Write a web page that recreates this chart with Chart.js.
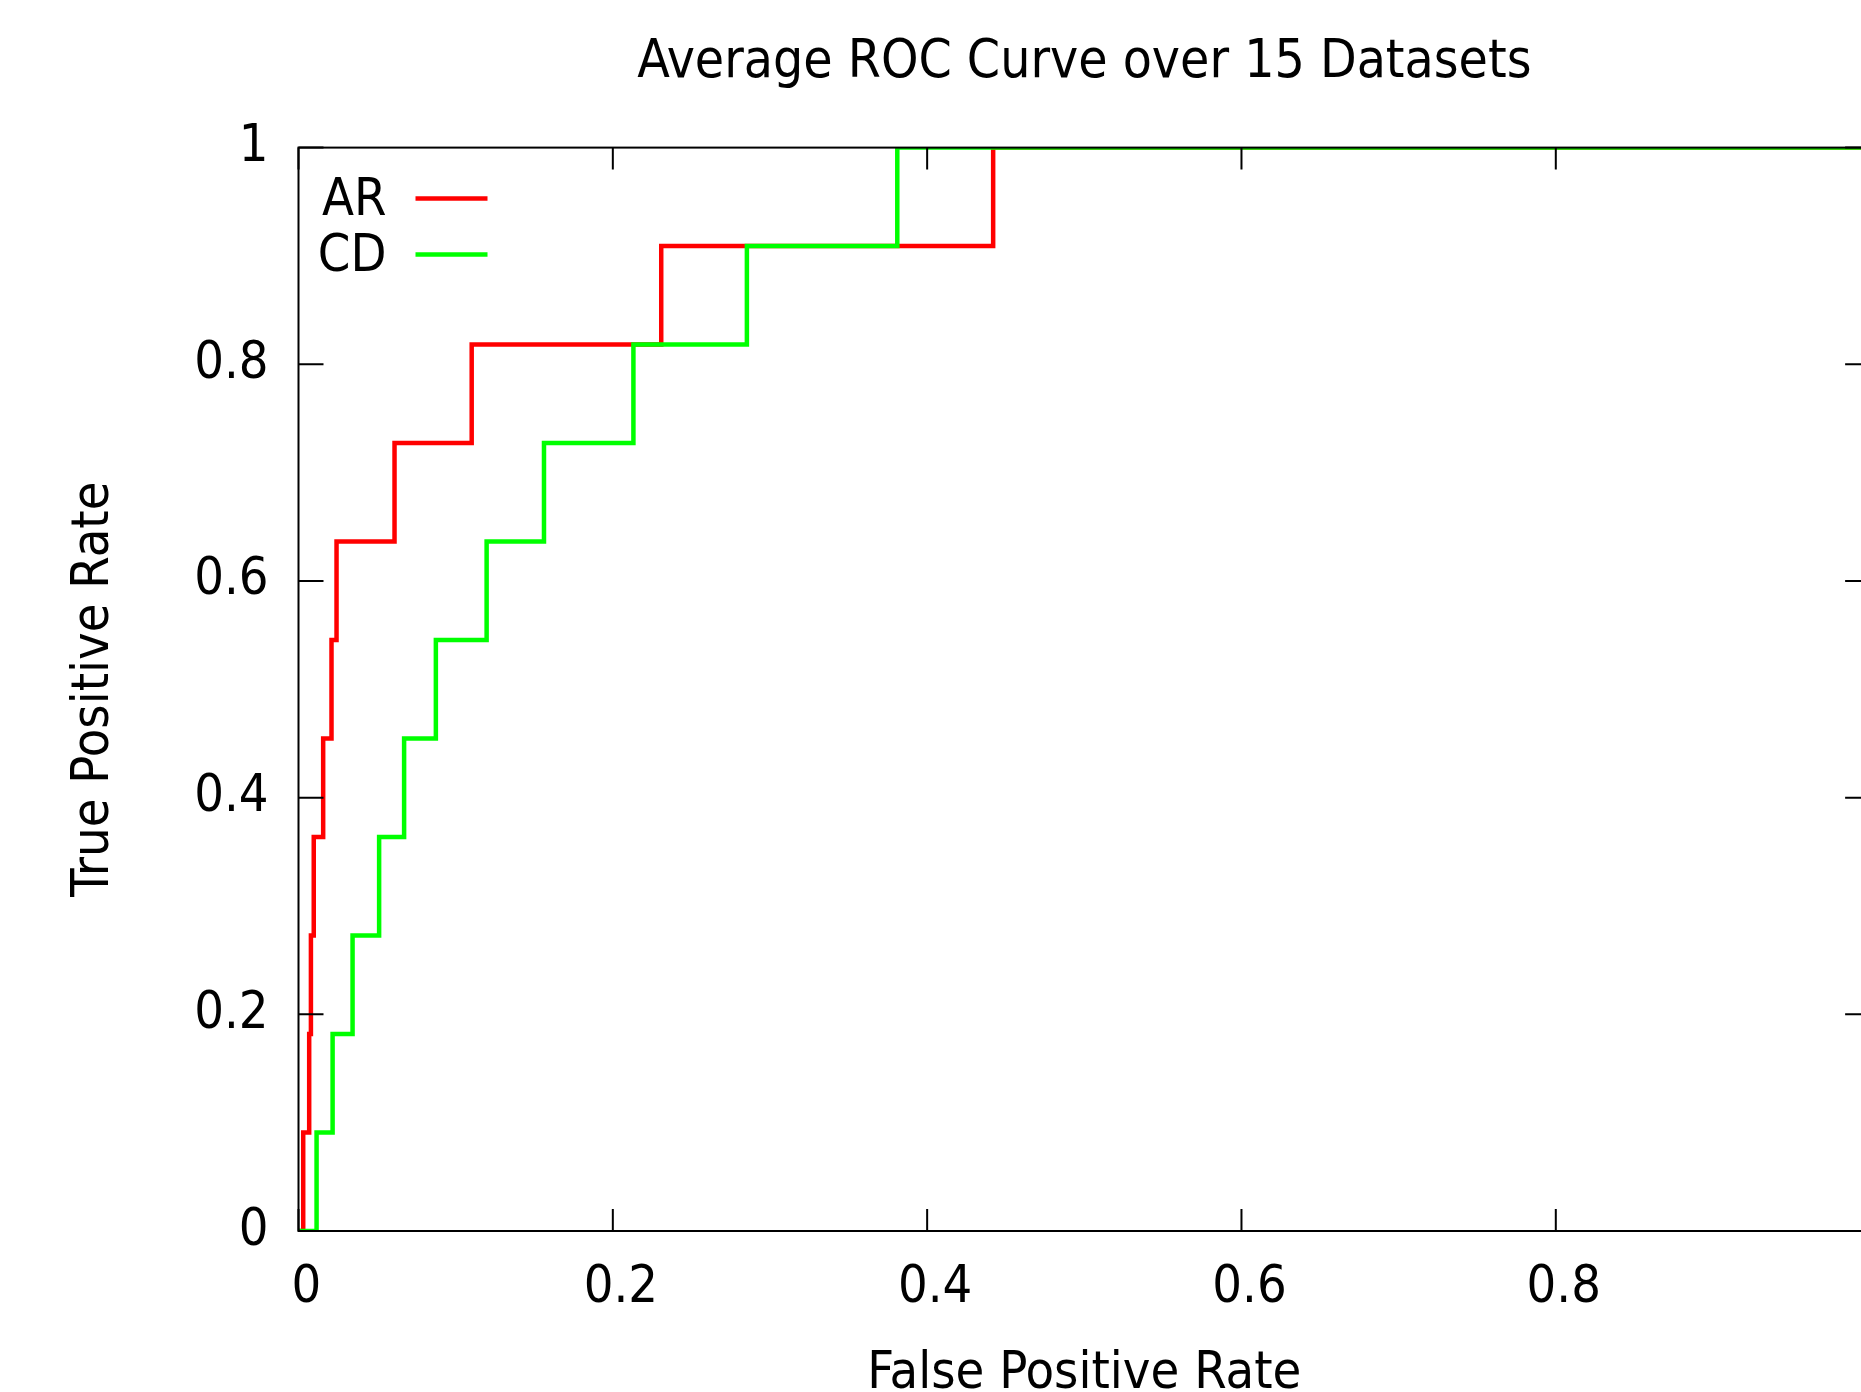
<!DOCTYPE html>
<html>
<head>
<meta charset="utf-8">
<title>Average ROC Curve over 15 Datasets</title>
<script src="https://cdn.jsdelivr.net/npm/chart.js@4.4.1/dist/chart.umd.min.js"></script>
<style>
  html, body { margin: 0; padding: 0; background: #fff; overflow: hidden; }
  #roc { position: absolute; left: 0; top: 0; }
</style>
</head>
<body>
<canvas id="roc" width="1911" height="1420"></canvas>
<script>
// Valores (FPR -> TPR, curva escalonada)
const arFpr = [0, 0.003, 0.0068, 0.0079, 0.0097, 0.0157, 0.021, 0.0242, 0.0611, 0.1102, 0.2308, 0.442, 1];
const arTpr = [0, 0.0909, 0.1818, 0.2727, 0.3636, 0.4545, 0.5455, 0.6364, 0.7273, 0.8182, 0.9091, 1, 1];
const cdFpr = [0, 0.0115, 0.0217, 0.0344, 0.0513, 0.0672, 0.0874, 0.1197, 0.1562, 0.2131, 0.2853, 0.381, 1];
const cdTpr = [0, 0.0909, 0.1818, 0.2727, 0.3636, 0.4545, 0.5455, 0.6364, 0.7273, 0.8182, 0.9091, 1, 1];

const tickValues = [0, 0.2, 0.4, 0.6, 0.8, 1];
const tickLabels = ["0", "0.2", "0.4", "0.6", "0.8", "1"];

const FONT = "'DejaVu Sans Condensed', 'DejaVu Sans', sans-serif";
Chart.defaults.font.family = FONT;
Chart.defaults.font.size = 52;
Chart.defaults.color = "#000";

const toPoints = (xs, ys) => xs.map((v, i) => ({ x: v, y: ys[i] }));

// Marco estilo gnuplot con ticks hacia dentro + leyenda (texto y luego muestra)
const gnuplotFrame = {
  id: "gnuplotFrame",
  afterDatasetsDraw(chart) {
    const { ctx, chartArea: a, scales: { x, y } } = chart;
    ctx.save();
    ctx.strokeStyle = "#000";
    ctx.lineWidth = 2;
    ctx.strokeRect(a.left, a.top, a.right - a.left, a.bottom - a.top);
    ctx.beginPath();
    x.ticks.forEach(t => {
      const px = x.getPixelForValue(t.value);
      ctx.moveTo(px, a.bottom); ctx.lineTo(px, a.bottom - 22);
      ctx.moveTo(px, a.top); ctx.lineTo(px, a.top + 22);
    });
    y.ticks.forEach(t => {
      const py = y.getPixelForValue(t.value);
      ctx.moveTo(a.left, py); ctx.lineTo(a.left + 25, py);
      ctx.moveTo(a.right, py); ctx.lineTo(a.right - 25, py);
    });
    ctx.stroke();

    // Leyenda
    ctx.font = "52px " + FONT;
    ctx.textAlign = "right";
    ctx.textBaseline = "middle";
    chart.data.datasets.slice().sort((p, q) => p.legendRow - q.legendRow).forEach((ds, i) => {
      const ly = a.top + 51 + i * 56;
      ctx.fillStyle = "#000";
      ctx.fillText(ds.label, a.left + 88, ly + 3);
      ctx.strokeStyle = ds.borderColor;
      ctx.lineWidth = 4.5;
      ctx.beginPath();
      ctx.moveTo(a.left + 117, ly);
      ctx.lineTo(a.left + 189, ly);
      ctx.stroke();
    });
    ctx.restore();
  }
};

new Chart(document.getElementById("roc"), {
  type: "line",
  data: {
    datasets: [
      {
        label: "CD",
        data: toPoints(cdFpr, cdTpr),
        borderColor: "#00ff00",
        borderWidth: 4.5,
        stepped: true,
        pointRadius: 0,
        fill: false,
        order: 0,
        legendRow: 1
      },
      {
        label: "AR",
        data: toPoints(arFpr, arTpr),
        borderColor: "#ff0000",
        borderWidth: 4.5,
        stepped: true,
        pointRadius: 0,
        fill: false,
        order: 1,
        legendRow: 0
      }
    ]
  },
  options: {
    responsive: false,
    animation: false,
    layout: { padding: { left: 0, right: 31, top: 0, bottom: 0 } },
    plugins: {
      legend: { display: false },
      tooltip: { enabled: false },
      title: {
        display: true,
        text: "Average ROC Curve over 15 Datasets",
        color: "#000",
        font: { size: 53, weight: "normal" },
        padding: { top: 31, bottom: 53 },
        fullSize: false
      }
    },
    scales: {
      x: {
        type: "linear",
        min: 0,
        max: 1,
        afterBuildTicks: s => { s.ticks = tickValues.map(v => ({ value: v })); },
        afterFit: s => { s.height = 189; },
        grid: { display: false, drawTicks: false },
        border: { display: false },
        ticks: {
          autoSkip: false,
          maxRotation: 0,
          padding: 26,
          labelOffset: 8,
          callback: (v, i) => tickLabels[i]
        },
        title: {
          display: true,
          text: "False Positive Rate",
          font: { size: 52 },
          padding: { top: 0, bottom: 14 }
        }
      },
      y: {
        type: "linear",
        min: 0,
        max: 1,
        afterBuildTicks: s => { s.ticks = tickValues.map(v => ({ value: v })); },
        afterFit: s => { s.width = 298.5; },
        grid: { display: false, drawTicks: false },
        border: { display: false },
        ticks: {
          autoSkip: false,
          padding: 30,
          callback: (v, i) => tickLabels[i]
        },
        title: {
          display: true,
          text: "True Positive Rate",
          font: { size: 52 },
          padding: { top: 63, bottom: 0 }
        }
      }
    }
  },
  plugins: [gnuplotFrame]
});
</script>
</body>
</html>
